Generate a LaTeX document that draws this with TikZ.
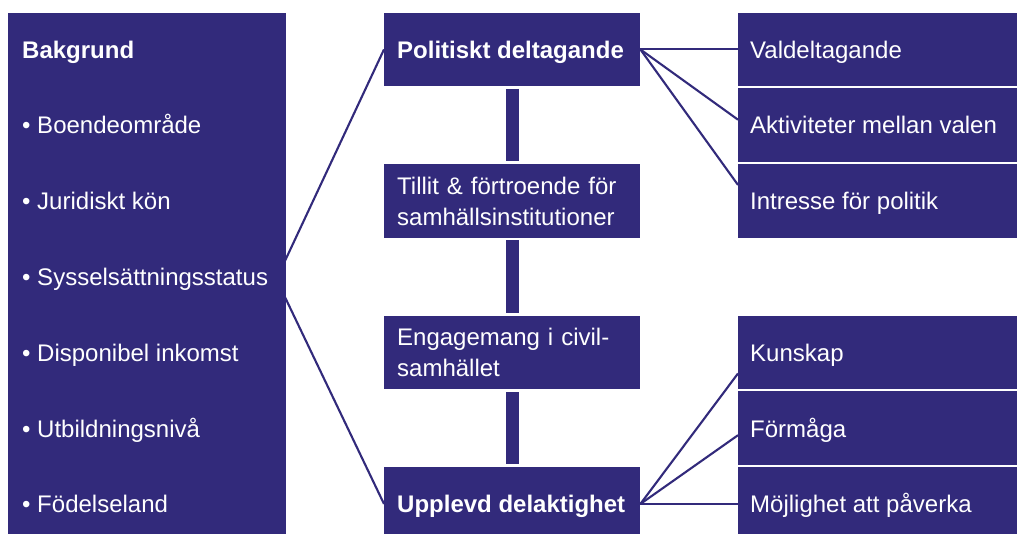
\documentclass[tikz,border=0pt]{standalone}
\usepackage{fontspec}
\setmainfont{Liberation Sans}
\usetikzlibrary{calc,backgrounds}
\definecolor{navy}{RGB}{50,42,123}
\begin{document}
\begin{tikzpicture}[x=1pt,y=-1pt,
  txt/.style={font=\fontsize{24}{31}\selectfont, text=white},
  box/.style={txt, fill=navy, draw=none, anchor=north west, inner ysep=0pt,
    minimum height=73.5pt, align=left},
  midbox/.style={box, text width=230pt, inner xsep=13pt},
  rbox/.style={box, minimum width=300pt, inner sep=0pt},
  item/.style={txt, anchor=base west, inner sep=0pt},
  bold/.style={font=\fontsize{24}{31}\selectfont\bfseries},
  link/.style={draw=navy, line width=2.1pt},
  bar/.style={draw=navy, line width=13.4pt, shorten <=2.6pt, shorten >=2.6pt}
]
\path[use as bounding box, clip] (0,0) rectangle (1017,534);

% left background box
\node[box, minimum width=278pt, minimum height=540pt, inner sep=0pt] (bg) at (8,12.5) {};
\node[item, bold] (b0) at (22,58.25) {Bakgrund};
\node[item] (b1) at (22,134) {• Boendeområde};
\node[item] (b2) at (22,209.75) {• Juridiskt kön};
\node[item] (b3) at (22,285.5) {• Sysselsättningsstatus};
\node[item] (b4) at (22,361.25) {• Disponibel inkomst};
\node[item] (b5) at (22,437) {• Utbildningsnivå};
\node[item] (b6) at (22,512.75) {• Födelseland};

% middle column
\node[midbox] (pol) at (384,12.5) {};
\node[item, bold] (polt) at (397,58.25) {Politiskt deltagande};
\node[midbox] (til) at (384,164) {Tillit \& förtroende för\\samhällsinstitutioner};
\node[midbox] (eng) at (384,315.5) {Engagemang i civil-\\samhället};
\node[midbox] (upp) at (384,467) {};
\node[item, bold] (uppt) at (397,512.75) {Upplevd delaktighet};

% right column
\node[rbox] (val) at (738,12.5) {};
\node[rbox] (akt) at (738,88.25) {};
\node[rbox] (int) at (738,164) {};
\node[rbox] (kun) at (738,315.5) {};
\node[rbox] (for) at (738,391.25) {};
\node[rbox] (moj) at (738,467) {};
\node[item] (valt) at (750,58.25) {Valdeltagande};
\node[item] (aktt) at (750,134) {Aktiviteter mellan valen};
\node[item] (intt) at (750,209.75) {Intresse för politik};
\node[item] (kunt) at (750,361.25) {Kunskap};
\node[item] (fort) at (750,437) {Förmåga};
\node[item] (mojt) at (750,512.75) {Möjlighet att påverka};

% vertical bars
\draw[bar] (pol) -- (til);
\draw[bar] (til) -- (eng);
\draw[bar] (eng) -- (upp);

\begin{scope}[on background layer]
  \fill[white] (0,0) rectangle (1017,534);
  \coordinate (bgj) at ($(bg.east)+(-10,-3.5)$);
  \draw[link] (bgj) -- (pol.west);
  \draw[link] (bgj) -- (upp.west);
  \draw[link] (pol.east) -- (val.west);
  \draw[link] (pol.east) -- ($(akt.west)+(0,-5.5)$);
  \draw[link] (pol.east) -- ($(int.west)+(0,-16)$);
  \draw[link] (upp.east) -- ($(kun.west)+(0,21)$);
  \draw[link] (upp.east) -- ($(for.west)+(0,7)$);
  \draw[link] (upp.east) -- (moj.west);
\end{scope}
\end{tikzpicture}
\end{document}
